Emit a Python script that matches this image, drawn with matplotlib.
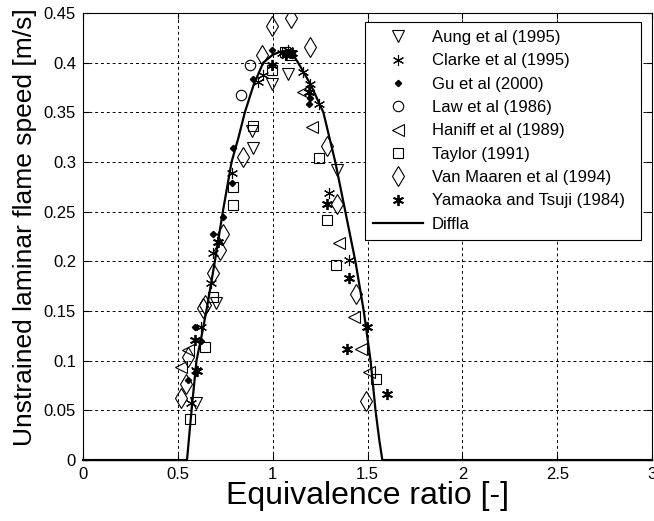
import matplotlib
matplotlib.use('Agg')
import matplotlib.pyplot as plt
from matplotlib.ticker import FuncFormatter

plt.rcParams['font.family'] = ['Liberation Sans', 'DejaVu Sans']

# Diffla model curve
diffla_phi = [0.0, 0.548, 0.572, 0.598, 0.625, 0.65, 0.695, 0.737, 0.783, 0.82, 0.853,
              0.9, 0.95, 1.0, 1.04, 1.07, 1.1, 1.134, 1.2, 1.267, 1.33, 1.383, 1.436,
              1.48, 1.516, 1.542, 1.562, 1.578, 3.0]
diffla_s = [0.0, 0.0, 0.05, 0.1, 0.125, 0.15, 0.2, 0.25, 0.3, 0.325, 0.35,
            0.378, 0.4, 0.408, 0.411, 0.412, 0.41, 0.4, 0.378, 0.35, 0.3, 0.25, 0.2,
            0.15, 0.1, 0.05, 0.02, 0.0, 0.0]

# experimental data
aung_phi = [0.597, 0.703, 0.889, 0.897, 0.995, 1.083, 1.339]
aung_s = [0.057, 0.158, 0.331, 0.314, 0.379, 0.389, 0.292]

clarke_phi = [0.571, 0.597, 0.624, 0.677, 0.685, 0.783, 0.924, 0.95, 1.05, 1.08,
              1.162, 1.198, 1.242, 1.295, 1.401]
clarke_s = [0.057, 0.091, 0.134, 0.178, 0.208, 0.289, 0.381, 0.388, 0.41, 0.413,
            0.391, 0.379, 0.358, 0.269, 0.201]

gu_phi = [0.553, 0.588, 0.62, 0.685, 0.74, 0.783, 0.791, 0.897, 0.995, 1.06, 1.1,
          1.189, 1.198]
gu_s = [0.081, 0.134, 0.12, 0.228, 0.245, 0.279, 0.314, 0.384, 0.413, 0.41, 0.408,
        0.358, 0.364]

law_phi = [0.832, 0.88]
law_s = [0.367, 0.398]

haniff_phi = [0.518, 0.553, 1.162, 1.207, 1.348, 1.427, 1.463, 1.507]
haniff_s = [0.094, 0.111, 0.37, 0.335, 0.218, 0.144, 0.112, 0.089]

taylor_phi = [0.562, 0.641, 0.685, 0.788, 0.791, 0.897, 0.995, 1.065, 1.09, 1.242,
              1.286, 1.335, 1.542]
taylor_s = [0.041, 0.114, 0.164, 0.275, 0.257, 0.336, 0.393, 0.411, 0.408, 0.304,
            0.242, 0.196, 0.082]

vanmaaren_phi = [0.518, 0.544, 0.553, 0.632, 0.641, 0.685, 0.721, 0.738, 0.841, 0.942,
                 0.995, 1.097, 1.194, 1.286, 1.339, 1.441, 1.494]
vanmaaren_s = [0.062, 0.077, 0.104, 0.153, 0.156, 0.188, 0.211, 0.228, 0.305, 0.408,
               0.437, 0.445, 0.416, 0.316, 0.258, 0.167, 0.059]

yamaoka_phi = [0.588, 0.6, 0.71, 0.995, 1.07, 1.1, 1.189, 1.286, 1.401, 1.392, 1.498, 1.60]
yamaoka_s = [0.121, 0.09, 0.22, 0.398, 0.408, 0.41, 0.371, 0.258, 0.183, 0.112, 0.134, 0.066]

x_ticks = [0, 0.5, 1, 1.5, 2, 2.5, 3]
y_ticks = [0, 0.05, 0.1, 0.15, 0.2, 0.25, 0.3, 0.35, 0.4, 0.45]

fig = plt.figure(figsize=(6.54, 5.21), dpi=100)
ax = fig.add_axes([0.127, 0.117, 0.87, 0.858])

asterisk = (6, 2, 0)
opn = dict(linestyle='none', markerfacecolor='none', markeredgecolor='k', markeredgewidth=0.8)

ax.plot(aung_phi, aung_s, marker='v', markersize=8.5, label='Aung et al (1995)', **opn)
ax.plot(clarke_phi, clarke_s, marker=asterisk, markersize=8, linestyle='none',
        color='k', markeredgewidth=0.8, label='Clarke et al (1995)')
ax.plot(gu_phi, gu_s, marker='D', markersize=3.2, linestyle='none', color='k',
        label='Gu et al (2000)')
ax.plot(law_phi, law_s, marker='o', markersize=7.5, label='Law et al (1986)', **opn)
ax.plot(haniff_phi, haniff_s, marker='<', markersize=8.5, label='Haniff et al (1989)', **opn)
ax.plot(taylor_phi, taylor_s, marker='s', markersize=7.5, label='Taylor (1991)', **opn)
ax.plot(vanmaaren_phi, vanmaaren_s, marker='d', markersize=10, label='Van Maaren et al (1994)', **opn)
ax.plot(yamaoka_phi, yamaoka_s, marker=asterisk, markersize=8, linestyle='none',
        color='k', markeredgewidth=1.3, label='Yamaoka and Tsuji (1984)')
ax.plot(yamaoka_phi, yamaoka_s, marker='o', markersize=2.5, linestyle='none', color='k')
ax.plot(diffla_phi, diffla_s, color='k', linewidth=1.6, label='Diffla', clip_on=False)

ax.set_xlim(0, 3)
ax.set_ylim(0, 0.45)
ax.set_xticks(x_ticks)
ax.set_yticks(y_ticks)
ax.xaxis.set_major_formatter(FuncFormatter(lambda v, p: '%g' % v))
ax.yaxis.set_major_formatter(FuncFormatter(lambda v, p: '%g' % v))
ax.tick_params(direction='in', top=True, right=True, labelsize=12, length=4, width=0.8, pad=5)
ax.grid(True, color='k', linestyle=(0, (3, 3)), linewidth=0.7)
for sp in ax.spines.values():
    sp.set_linewidth(0.8)

ax.set_xlabel('Equivalence ratio [-]', fontsize=23, labelpad=-1)
ax.set_ylabel('Unstrained laminar flame speed [m/s]', fontsize=19, labelpad=5, y=0.52)

# legend box spans roughly x 365..641 px, top at 22 px
leg = ax.legend(loc='upper left', bbox_to_anchor=(0.4956, 0.0, 0.485, 0.9805), mode='expand',
                fontsize=12, frameon=True, fancybox=False, edgecolor='k', framealpha=1,
                handlelength=3.0, labelspacing=0.5, borderpad=0.5, handletextpad=0.5,
                borderaxespad=0)
leg.get_frame().set_linewidth(0.8)

fig.savefig('out.png', dpi=100)
